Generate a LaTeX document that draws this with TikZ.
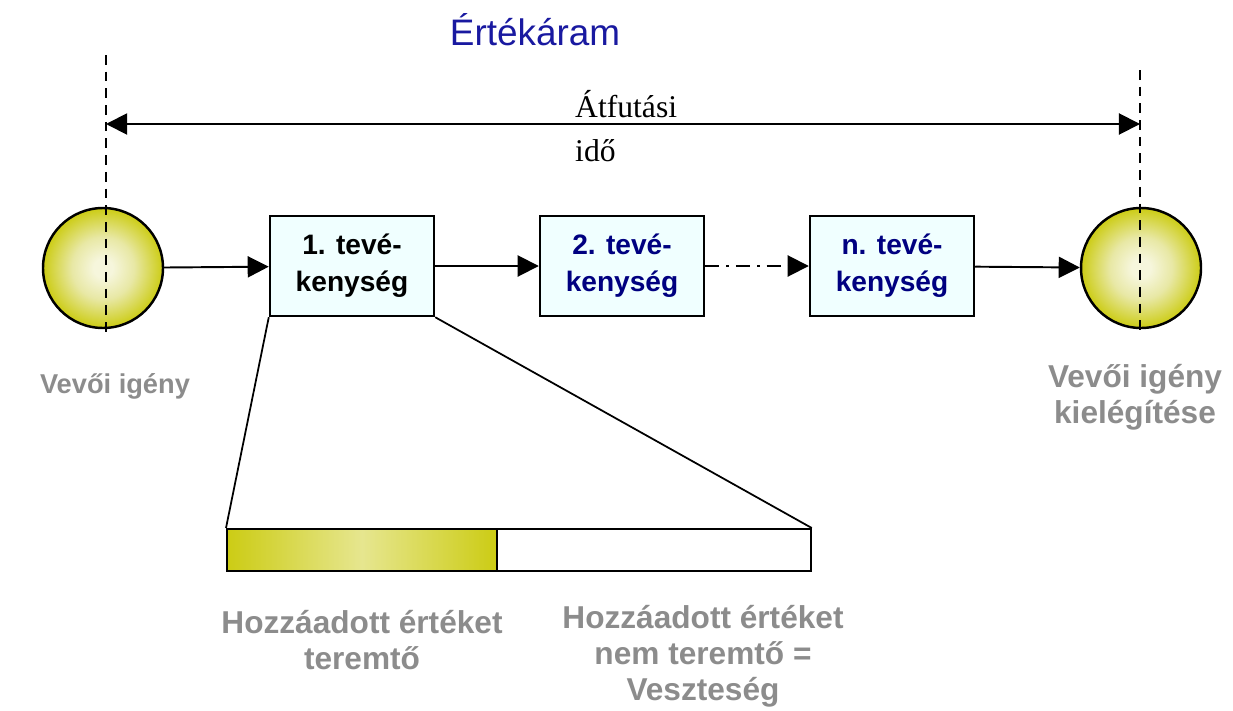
\documentclass[tikz,border=0pt]{standalone}
\usepackage{fontspec}
\setmainfont{Liberation Sans}
\newfontfamily\timesfont{Liberation Serif}
\usetikzlibrary{arrows.meta}

\definecolor{ballout}{RGB}{204,204,20}
\definecolor{ballmid}{RGB}{232,232,165}
\definecolor{ballin}{RGB}{246,246,220}
\definecolor{barmid}{RGB}{230,230,143}
\definecolor{boxfill}{RGB}{240,255,255}
\definecolor{tevnavy}{RGB}{0,0,128}
\definecolor{labelgray}{RGB}{140,140,140}
\definecolor{titleblue}{RGB}{25,25,160}

\pgfdeclareradialshading{ballshade}{\pgfpoint{0bp}{0bp}}{color(0bp)=(ballin); color(4bp)=(ballin); color(13bp)=(ballmid); color(25bp)=(ballout); color(50bp)=(ballout)}

\newcommand*\pxunit{0.02cm}
\tikzset{
    ball/.style={
        circle,
        draw,
        line width=1.4pt,
        shading=ballshade,
        minimum size=120*\pxunit,
        inner sep=0pt
    },
    activity/.style={
        draw,
        line width=1.4pt,
        fill=boxfill,
        minimum width=164*\pxunit,
        minimum height=100*\pxunit,
        inner sep=0pt,
        align=center,
        font=\fontsize{16}{21}\selectfont\bfseries
    },
    flow/.style={line width=1.1pt, -{Triangle[length=12pt,width=12pt]}},
    guide/.style={line width=1.1pt, dash pattern=on 5.5pt off 4pt},
    graylabel/.style={align=center, text=labelgray, font=\fontsize{15.5}{19.5}\selectfont\bfseries},
    biglabel/.style={graylabel, font=\fontsize{18}{20.5}\selectfont\bfseries},
    barpart/.style={
        draw,
        line width=1pt,
        minimum width=#1*\pxunit,
        minimum height=42*\pxunit,
        inner sep=0pt,
        anchor=north west
    }
}

\begin{document}
\begin{tikzpicture}[x=\pxunit,y=-\pxunit]
    \useasboundingbox (0,0) rectangle (1233,710);

    % Title.
    \node[text=titleblue, font=\fontsize{21}{25}\selectfont] (title) at (535,30) {Értékáram};

    % Customer need and its fulfilment.
    \node[ball] (need) at (103,268) {};
    \node[ball] (done) at (1141,268) {};

    % Vertical guides and the lead time arrow.
    \coordinate (ltop) at (106,55);
    \coordinate (lbot) at (106,332);
    \coordinate (rtop) at (1140,70);
    \coordinate (rbot) at (1140,336);
    \coordinate (larr) at (106,124);
    \coordinate (rarr) at (1140,124);
    \draw[guide] (ltop) -- (lbot);
    \draw[guide] (rtop) -- (rbot);
    \draw[line width=1.1pt, {Triangle[length=12pt,width=12pt]}-{Triangle[length=12pt,width=12pt]}] (larr) -- (rarr);
    \node[anchor=west, align=left, font=\timesfont\fontsize{18}{25.5}\selectfont] (lead) at (569,126) {Átfutási\\idő};

    % The activities.
    \node[activity] (act1) at (352,266) {1. tevé-\\kenység};
    \node[activity, text=tevnavy] (act2) at (622,266) {2. tevé-\\kenység};
    \node[activity, text=tevnavy] (actn) at (892,266) {n. tevé-\\kenység};

    \draw[flow] (need) -- (act1);
    \draw[flow] (act1) -- (act2);
    \draw[flow, dash pattern=on 8pt off 4pt on 1.5pt off 4pt] (act2) -- (actn);
    \draw[flow] (actn) -- (done);

    % Breakdown of the first activity.
    \node[barpart=270, left color=ballout, right color=ballout, middle color=barmid] (va) at (226,528) {};
    \node[barpart=314, fill=white] (nva) at (496,528) {};
    \draw[line width=1pt] (act1.south west) -- (va.north west);
    \draw[line width=1pt] (act1.south east) -- (nva.north east);

    % Gray labels.
    \node[graylabel] (needlabel) at (115,386) {Vevői igény};
    \node[biglabel] (donelabel) at (1135,397) {Vevői igény\\kielégítése};
    \node[biglabel] (valabel) at (362,640) {Hozzáadott értéket\\teremtő};
    \node[biglabel] (nvalabel) at (703,656) {Hozzáadott értéket\\nem teremtő =\\Veszteség};

\end{tikzpicture}
\end{document}
